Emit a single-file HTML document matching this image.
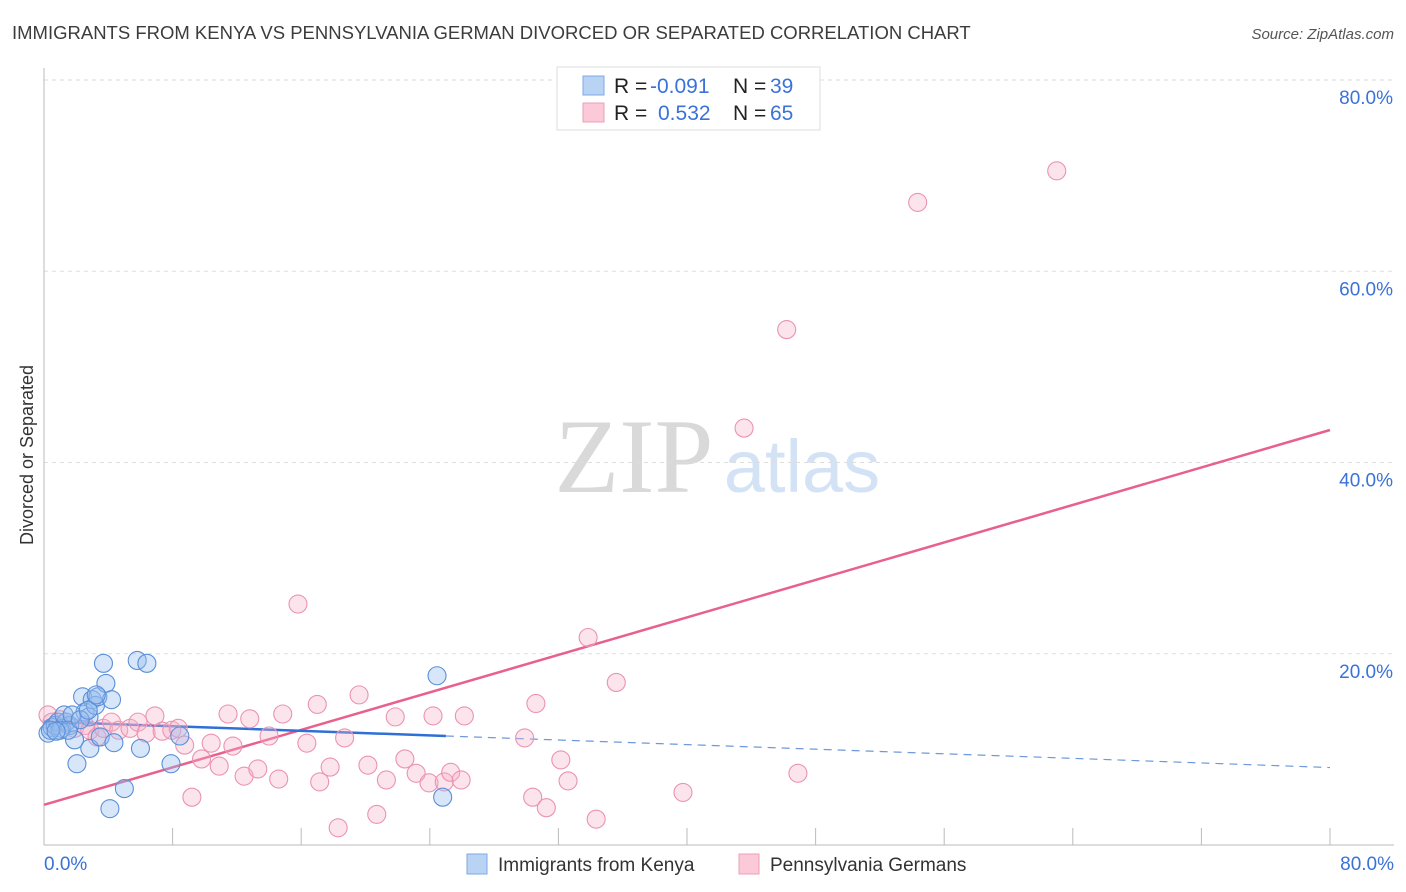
<!DOCTYPE html>
<html><head><meta charset="utf-8"><style>
body{margin:0;background:#fff;font-family:"Liberation Sans",sans-serif;}
svg{display:block}
</style></head><body>
<svg id="chart" width="1406" height="892">
<text x="12" y="39" font-size="18.5" fill="#3c3c3c">IMMIGRANTS FROM KENYA VS PENNSYLVANIA GERMAN DIVORCED OR SEPARATED CORRELATION CHART</text>
<text x="1394" y="39" font-size="15" fill="#555" font-style="italic" text-anchor="end">Source: ZipAtlas.com</text>
<text x="634" y="492" font-size="106" font-family="Liberation Serif,serif" fill="#d9d9d9" text-anchor="middle">ZIP</text>
<text x="802" y="492" font-size="74" fill="#d3e2f5" text-anchor="middle">atlas</text>
<text transform="translate(33,455) rotate(-90)" font-size="18" fill="#333" text-anchor="middle">Divorced or Separated</text>
<g id="grid"></g><g id="ticks"></g><g id="lines"></g><g id="dots"></g>
<g>
<rect x="557" y="67" width="263" height="63" fill="#fff" stroke="#ddd"/>
<rect x="583" y="76" width="21" height="19" fill="#b9d3f5" stroke="#7ea9e4"/>
<rect x="583" y="103" width="21" height="19" fill="#fbc9d8" stroke="#ee9fb8"/>
<text x="614" y="93" font-size="21" fill="#222">R = <tspan x="650" fill="#3a72d8">-0.091</tspan><tspan x="733">N = </tspan><tspan x="770" fill="#3a72d8">39</tspan></text>
<text x="614" y="120" font-size="21" fill="#222">R = <tspan x="658" fill="#3a72d8">0.532</tspan><tspan x="733">N = </tspan><tspan x="770" fill="#3a72d8">65</tspan></text>
</g>
<g>
<rect x="467" y="854" width="20" height="20" fill="#b9d3f5" stroke="#7ea9e4"/>
<text x="498" y="871" font-size="19" fill="#333">Immigrants from Kenya</text>
<rect x="739" y="854" width="20" height="20" fill="#fbc9d8" stroke="#ee9fb8"/>
<text x="770" y="871" font-size="19" fill="#333">Pennsylvania Germans</text>
</g>
</svg>
<script>
const xTicks=[0,10,20,30,40,50,60,70,80];
const yTicks=[20,40,60,80];
const yTickLabels=["20.0%","40.0%","60.0%","80.0%"];
const xEndLabels=["0.0%","80.0%"];
const kenyaX=[0.25,0.5,0.7,0.87,1.1,1.37,1.6,1.25,1.9,2.05,2.4,2.55,2.8,2.85,3.0,3.2,3.35,3.5,3.7,3.85,4.2,4.35,5.0,4.1,5.8,6.0,6.4,7.9,8.45,24.45,24.8,1.75,1.0,1.5,2.25,2.75,3.25,0.4,0.75];
const kenyaY=[11.7,12.3,12.5,12.85,12.2,12.85,12.5,13.6,11.0,8.5,15.5,13.9,13.4,10.1,15.2,14.6,15.5,11.3,19.0,16.9,15.2,10.7,5.9,3.8,19.3,10.1,19.0,8.5,11.4,17.7,5.0,13.6,12.0,12.0,13.1,14.1,15.7,12.0,11.9];
const paX=[0.25,0.5,1.0,1.37,1.9,2.55,2.85,3.3,3.7,4.2,4.65,5.35,5.85,6.35,6.9,7.35,7.95,8.35,8.75,9.2,9.8,10.4,10.9,11.45,11.75,12.45,12.8,13.3,14.0,14.6,14.85,15.8,16.35,17.0,17.15,17.8,18.3,18.7,19.6,20.15,20.7,21.3,21.85,22.45,23.15,23.95,24.2,24.9,25.3,25.95,26.15,29.9,30.4,30.6,31.25,32.15,32.6,33.85,34.35,35.6,39.75,43.55,46.2,46.9,54.35,63.0];
const paY=[13.6,12.85,13.1,12.85,12.2,12.5,12.0,11.3,12.2,12.85,12.0,12.2,12.85,11.7,13.5,11.9,12.0,12.2,10.45,5.0,9.0,10.65,8.25,13.7,10.35,7.2,13.2,7.95,11.4,6.9,13.7,25.2,10.65,14.7,6.6,8.15,1.8,11.2,15.7,8.35,3.2,6.8,13.4,9.0,7.5,6.5,13.5,6.6,7.6,6.8,13.5,11.2,5.0,14.8,3.9,8.9,6.7,21.7,2.7,17.0,5.5,43.6,53.9,7.5,67.2,70.5];
const paTrend=[4.2,43.4];
const kenyaTrend=[12.9,8.1];
const kenyaSolidEnd=25;
const NS="http://www.w3.org/2000/svg";
const sx=v=>44+v*(1330-44)/80, sy=v=>845-v*(845-80)/80;
function mk(p,t,a){const e=document.createElementNS(NS,t);for(const k in a)e.setAttribute(k,a[k]);document.getElementById(p).appendChild(e);return e;}
yTicks.forEach((t,i)=>{
 const g=mk('grid','line',{x1:44,x2:1394,y1:sy(t),y2:sy(t),stroke:'#ddd','stroke-dasharray':'4,4'});
 
 
 const l=mk('grid','text',{x:1393,y:sy(t)+24,'font-size':19,fill:'#3a72d8','text-anchor':'end'});l.textContent=yTickLabels[i];
 
 
});
mk('ticks','line',{x1:44,x2:44,y1:68,y2:845,stroke:'#bbb'});
mk('ticks','line',{x1:44,x2:1394,y1:845,y2:845,stroke:'#bbb'});
for(let v=0;v<=80;v+=8){const t=mk('ticks','line',{x1:sx(v),x2:sx(v),y1:828,y2:845,stroke:'#bbb'});
 
 }
[[0,'start',44],[80,'end',1394]].forEach((o,i)=>{const l=mk('ticks','text',{x:o[2],y:870,'font-size':19,fill:'#3a72d8','text-anchor':o[1]});l.textContent=xEndLabels[i];
 
 });
const kAt=x=>kenyaTrend[0]+(kenyaTrend[1]-kenyaTrend[0])*x/80;
const pl=mk('lines','line',{x1:sx(0),y1:sy(paTrend[0]),x2:sx(80),y2:sy(paTrend[1]),stroke:'#e8608c','stroke-width':2.5});


const kl=mk('lines','line',{x1:sx(0),y1:sy(kAt(0)),x2:sx(kenyaSolidEnd),y2:sy(kAt(kenyaSolidEnd)),stroke:'#2f6fd6','stroke-width':2.5});


const kd=mk('lines','line',{x1:sx(kenyaSolidEnd),y1:sy(kAt(kenyaSolidEnd)),x2:sx(80),y2:sy(kAt(80)),stroke:'#6f99dc','stroke-width':1.2,'stroke-dasharray':'8,6'});


paX.forEach((x,i)=>{const c=mk('dots','circle',{cx:sx(x),cy:sy(paY[i]),r:9,fill:'rgba(247,178,200,0.35)',stroke:'#eb93b0','stroke-width':1.1});
 
 });
kenyaX.forEach((x,i)=>{const c=mk('dots','circle',{cx:sx(x),cy:sy(kenyaY[i]),r:9,fill:'rgba(150,190,238,0.38)',stroke:'#5b8fd9','stroke-width':1.1});
 
 });
</script>
</body></html>
